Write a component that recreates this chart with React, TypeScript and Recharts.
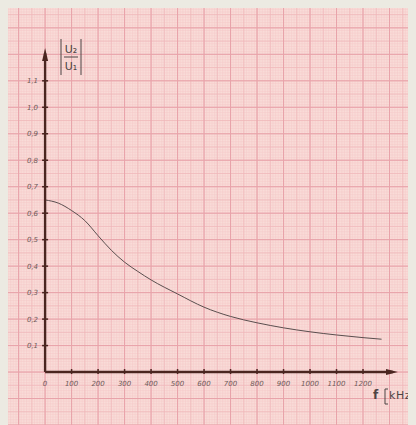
import React from "react";
import {
  ComposedChart,
  Line,
  XAxis,
  YAxis,
  CartesianGrid,
  ReferenceLine,
  Scatter,
} from "recharts";

// ---- data ----
const freqKHz = [0, 50, 100, 150, 200, 250, 300, 350, 400, 500, 600, 700, 800, 900, 1000, 1100, 1200, 1270];
const gainRatio = [0.65, 0.638, 0.61, 0.572, 0.515, 0.46, 0.415, 0.38, 0.348, 0.295, 0.245, 0.21, 0.186, 0.167, 0.152, 0.14, 0.13, 0.124];

const xTickValues = [0, 100, 200, 300, 400, 500, 600, 700, 800, 900, 1000, 1100, 1200];
const xTickLabels = ["0", "100", "200", "300", "400", "500", "600", "700", "800", "900", "1000", "1100", "1200"];
const yTickValues = [0.1, 0.2, 0.3, 0.4, 0.5, 0.6, 0.7, 0.8, 0.9, 1.0, 1.1];
const yTickLabels = ["0,1", "0,2", "0,3", "0,4", "0,5", "0,6", "0,7", "0,8", "0,9", "1,0", "1,1"];

const xAxisEnd = 1332;
const yAxisEnd = 1.224;

// ---- layout ----
const W = 408;
const H = 417;
const X_DOMAIN: [number, number] = [-140, 1400];
const Y_DOMAIN: [number, number] = [-0.2, 1.375];

const curveData = freqKHz.map((f, i) => ({ f, v: gainRatio[i] }));
const xTickData = xTickValues.map((f, i) => ({ f, v: 0, label: xTickLabels[i] }));
const yTickData = yTickValues.map((v, i) => ({ f: 0, v, label: yTickLabels[i] }));
const xArrowData = [{ f: xAxisEnd, v: 0 }];
const yArrowData = [{ f: 0, v: yAxisEnd }];

const steps = (a: number, b: number, s: number) => {
  const out: number[] = [];
  const n = Math.round((b - a) / s);
  for (let i = 0; i <= n; i++) out.push(a + i * s);
  return out;
};

const xPx = (f: number, off: any) => {
  const left = off?.left ?? 0;
  const width = off?.width ?? W;
  return left + ((f - X_DOMAIN[0]) / (X_DOMAIN[1] - X_DOMAIN[0])) * width;
};
const yPx = (v: number, off: any) => {
  const top = off?.top ?? 0;
  const height = off?.height ?? H;
  return top + ((Y_DOMAIN[1] - v) / (Y_DOMAIN[1] - Y_DOMAIN[0])) * height;
};

const vGen = (step: number) => (props: any) =>
  steps(-200, 1500, step).map((f) => xPx(f, props.offset));
const hGen = (step: number) => (props: any) =>
  steps(-0.3, 1.5, step).map((v) => yPx(v, props.offset));

const AXIS = "#4a2620";
const TEXT = "#6e5a58";
const FONT = "'DejaVu Sans', sans-serif";

const XTickShape = (p: any) => {
  const { cx, cy, payload } = p;
  return (
    <g>
      {payload.f !== 0 && <line x1={cx} x2={cx} y1={cy - 3} y2={cy + 2} stroke={AXIS} strokeWidth={1.5} />}
      <text
        x={cx}
        y={cy + 14}
        textAnchor="middle"
        fontSize={7}
        fontStyle="italic"
        fontFamily={FONT}
        fill={TEXT}
      >
        {payload.label}
      </text>
    </g>
  );
};

const YTickShape = (p: any) => {
  const { cx, cy, payload } = p;
  return (
    <g>
      <line x1={cx - 3} x2={cx + 3} y1={cy} y2={cy} stroke={AXIS} strokeWidth={1.5} />
      <text
        x={cx - 7}
        y={cy + 2.5}
        textAnchor="end"
        fontSize={7}
        fontStyle="italic"
        fontFamily={FONT}
        fill={TEXT}
      >
        {payload.label}
      </text>
    </g>
  );
};

const XArrow = (p: any) => {
  const { cx, cy } = p;
  return <polygon points={`${cx},${cy} ${cx - 12},${cy - 3} ${cx - 12},${cy + 3}`} fill={AXIS} />;
};
const YArrow = (p: any) => {
  const { cx, cy } = p;
  return <polygon points={`${cx},${cy} ${cx - 3},${cy + 13} ${cx + 3},${cy + 13}`} fill={AXIS} />;
};

export default function App() {
  return (
    <div style={{ position: "relative", width: W, height: H }}>
      <style>{"body{background:#eceae2;overflow:hidden}"}</style>
      <ComposedChart
        width={W}
        height={H}
        data={curveData}
        margin={{ top: 0, right: 0, bottom: 0, left: 0 }}
      >
        <XAxis type="number" dataKey="f" domain={X_DOMAIN} hide allowDataOverflow />
        <YAxis type="number" dataKey="v" domain={Y_DOMAIN} hide allowDataOverflow />
        <CartesianGrid
          fill="#f9dcd8"
          fillOpacity={1}
          stroke="#f4c8c8"
          strokeWidth={0.5}
          verticalCoordinatesGenerator={vGen(10)}
          horizontalCoordinatesGenerator={hGen(0.01)}
        />
        <CartesianGrid
          stroke="#efb6b9"
          strokeWidth={0.7}
          verticalCoordinatesGenerator={vGen(50)}
          horizontalCoordinatesGenerator={hGen(0.05)}
        />
        <CartesianGrid
          stroke="#e8a3aa"
          strokeWidth={1}
          verticalCoordinatesGenerator={vGen(100)}
          horizontalCoordinatesGenerator={hGen(0.1)}
        />
        <Line
          type="monotone"
          dataKey="v"
          stroke="#5a4e4e"
          strokeWidth={1}
          dot={false}
          isAnimationActive={false}
        />
        <ReferenceLine
          segment={[{ x: 0, y: 0 }, { x: xAxisEnd - 20, y: 0 }]}
          stroke={AXIS}
          strokeWidth={2.4}
          ifOverflow="visible"
        />
        <ReferenceLine
          segment={[{ x: 0, y: 0 }, { x: 0, y: yAxisEnd - 0.02 }]}
          stroke={AXIS}
          strokeWidth={2.4}
          ifOverflow="visible"
        />
        <Scatter data={xTickData} dataKey="v" shape={XTickShape} isAnimationActive={false} />
        <Scatter data={yTickData} dataKey="v" shape={YTickShape} isAnimationActive={false} />
        <Scatter data={xArrowData} dataKey="v" shape={XArrow} isAnimationActive={false} />
        <Scatter data={yArrowData} dataKey="v" shape={YArrow} isAnimationActive={false} />
      </ComposedChart>
      <svg
        width={W}
        height={H}
        style={{ position: "absolute", left: 0, top: 0, pointerEvents: "none" }}
      >
        <g fill="#4d4444" fontFamily={FONT}>
          <line x1={53} x2={53} y1={31} y2={67} stroke="#4d4444" strokeWidth={1} />
          <line x1={73} x2={73} y1={31} y2={67} stroke="#4d4444" strokeWidth={1} />
          <text x={63} y={45} textAnchor="middle" fontSize={11}>U₂</text>
          <line x1={56} x2={70} y1={49} y2={49} stroke="#4d4444" strokeWidth={1} />
          <text x={63} y={62} textAnchor="middle" fontSize={11}>U₁</text>
          <text x={365} y={391} fontSize={12} fontWeight="bold">f</text>
          <path d="M380,381 L377,381 L377,396 L380,396" stroke="#4d4444" fill="none" strokeWidth={1} />
          <text x={381} y={391} fontSize={11} letterSpacing={0.6}>kHz</text>
        </g>
      </svg>
    </div>
  );
}
